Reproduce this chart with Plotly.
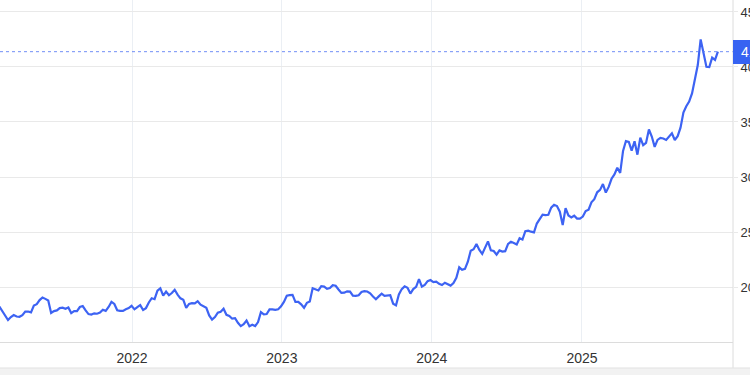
import pandas as pd
import plotly.graph_objects as go

# Weekly closing prices (Friday)
prices_2021 = [1823, 1784, 1734, 1700, 1727, 1745, 1732, 1729, 1744, 1777, 1777, 1769,
               1831, 1844, 1881, 1905, 1892, 1877, 1764, 1781, 1787, 1808, 1812, 1802,
               1814, 1763, 1780, 1781, 1818, 1827, 1787, 1754, 1750, 1761, 1757, 1767,
               1793, 1783, 1818, 1864, 1846, 1788, 1783, 1783, 1798, 1808, 1829]
prices_2022 = [1797, 1818, 1835, 1791, 1808, 1859, 1898, 1889, 1966, 1988, 1921, 1958,
               1925, 1945, 1975, 1931, 1897, 1883, 1811, 1846, 1853, 1851, 1871, 1840,
               1827, 1811, 1742, 1703, 1727, 1766, 1775, 1802, 1747, 1737, 1712, 1716,
               1675, 1644, 1661, 1695, 1644, 1657, 1645, 1681, 1771, 1751, 1754, 1797,
               1797, 1793, 1798, 1824]
prices_2023 = [1865, 1920, 1926, 1928, 1865, 1865, 1842, 1811, 1856, 1868, 1989, 1978,
               1969, 2008, 2004, 1983, 1990, 2017, 2011, 1977, 1946, 1948, 1961, 1958,
               1921, 1919, 1925, 1955, 1962, 1959, 1943, 1914, 1889, 1915, 1940, 1919,
               1924, 1925, 1848, 1833, 1932, 1981, 2006, 1992, 1940, 1981, 2001, 2072,
               2004, 2019, 2053, 2063]
prices_2024 = [2045, 2049, 2029, 2018, 2039, 2024, 2013, 2035, 2083, 2179, 2156, 2165,
               2230, 2330, 2344, 2391, 2337, 2301, 2360, 2415, 2334, 2327, 2294, 2333,
               2322, 2326, 2392, 2411, 2400, 2387, 2443, 2431, 2507, 2512, 2503, 2497,
               2577, 2621, 2658, 2653, 2657, 2721, 2747, 2736, 2685, 2563, 2716, 2650,
               2633, 2648, 2622, 2621]
prices_2025 = [2640, 2690, 2703, 2770, 2798, 2861, 2883, 2936, 2858, 2910, 2984, 3023,
               3084, 3037, 3237, 3327, 3319, 3240, 3325, 3203, 3357, 3289, 3310, 3432,
               3368, 3274, 3337, 3355, 3350, 3337, 3363, 3397, 3336, 3371, 3448, 3586,
               3643, 3685, 3760, 3886, 4018, 4251, 4112, 4002, 4000, 4085, 4065, 4139]

first_week = "2021-02-12"
last_price = 4139.20
last_label = "4139.20"
y_ticks = [2000, 2500, 3000, 3500, 4000, 4500]
x_tick_dates = ["2022-01-01", "2023-01-01", "2024-01-01", "2025-01-01"]
x_tick_text = ["2022", "2023", "2024", "2025"]

values = prices_2021 + prices_2022 + prices_2023 + prices_2024 + prices_2025
dates = pd.date_range(start=first_week, periods=len(values), freq="W-FRI")

LINE = "#3d63f3"
GRID = "#e9e9e9"
AXIS = "#dcdcdc"
FONT = "Liberation Sans, Arial, sans-serif"

fig = go.Figure()
fig.add_trace(go.Scatter(
    x=dates, y=values, mode="lines",
    line=dict(color=LINE, width=2.2, shape="linear"),
    hoverinfo="x+y", showlegend=False,
))

# last price dotted line
fig.add_shape(type="line", xref="paper", yref="y", x0=0, x1=1,
              y0=last_price, y1=last_price,
              line=dict(color="#5a7cf5", width=1, dash="dot"), opacity=0.85)

# right axis line extending down through label area
fig.add_shape(type="line", xref="paper", yref="paper", x0=1, x1=1, y0=1, y1=-0.076,
              line=dict(color=AXIS, width=1), layer="above")
# bottom band
fig.add_shape(type="rect", xref="paper", yref="paper", x0=-0.05, x1=1.1,
              y0=-0.076, y1=-0.2, fillcolor="#f2f2f2",
              line=dict(color="#e2e2e2", width=1), layer="above")

fig.add_annotation(
    x=1, xref="paper", y=last_price, yref="y",
    xanchor="left", yanchor="middle",
    text=" " + last_label, showarrow=False,
    font=dict(color="white", size=14, family=FONT),
    bgcolor="#3763f2", bordercolor="#3763f2", borderwidth=1, borderpad=3,
)

fig.update_layout(
    width=750, height=375,
    margin=dict(l=0, r=17, t=0, b=33, autoexpand=False),
    paper_bgcolor="white", plot_bgcolor="white",
    font=dict(family=FONT, color="#333333"),
    xaxis=dict(
        type="date", automargin=False,
        range=["2021-02-13 12:00", "2026-01-03 19:00"],
        tickvals=x_tick_dates, ticktext=x_tick_text,
        tickfont=dict(size=14, color="#333333"),
        ticklabelstandoff=3,
        showgrid=True, gridcolor="#ebeff4", gridwidth=1,
        showline=True, linecolor=AXIS, linewidth=1,
        ticks="", zeroline=False,
    ),
    yaxis=dict(
        side="right", automargin=False,
        range=[1500, 4609],
        tickvals=y_ticks,
        tickfont=dict(size=13, color="#333333"),
        showgrid=True, gridcolor=GRID, gridwidth=1,
        ticks="outside", ticklen=4, tickcolor=GRID,
        showline=False, zeroline=False,
    ),
)

fig.write_html("out.html")
